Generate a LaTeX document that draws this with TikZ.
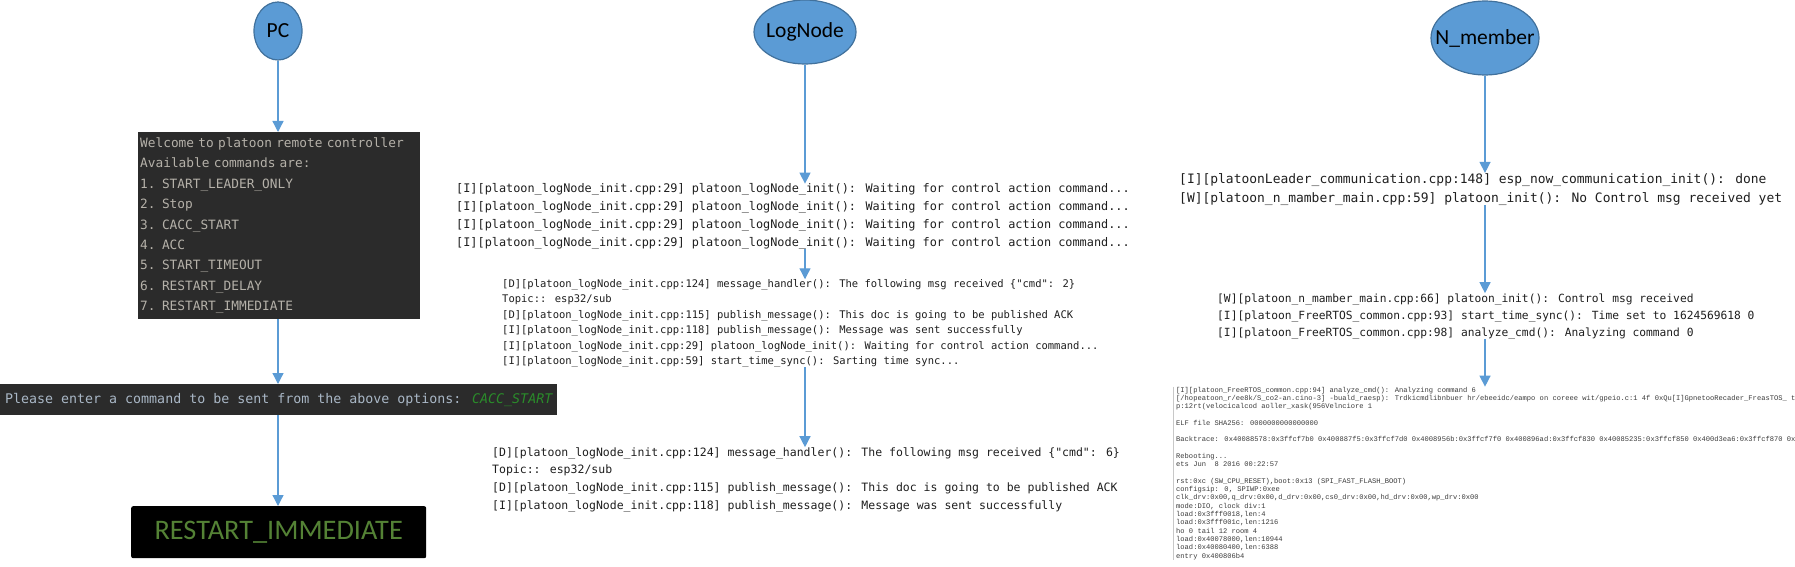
\documentclass[tikz,border=0pt]{standalone}
\usepackage{fontspec}
\setmainfont{Carlito}
\newfontfamily\consolefont{DejaVu Sans Mono}
\newfontfamily\serialfont{Liberation Mono}
\usetikzlibrary{arrows.meta}
\usetikzlibrary{shapes.geometric}

\definecolor{nodeblue}{HTML}{5B9BD5}
\definecolor{nodeline}{HTML}{41719C}
\definecolor{termgray}{HTML}{2B2B2B}
\definecolor{menugray}{HTML}{B5B1A9}
\definecolor{promptgray}{HTML}{A9B7C6}
\definecolor{accgreen}{HTML}{2A8C2A}
\definecolor{cmdgreen}{HTML}{548235}
\definecolor{logblack}{HTML}{1E1E1E}
\definecolor{serialgray}{HTML}{3A3A3A}
\definecolor{framegray}{HTML}{C8C8C8}

\begin{document}
\begin{tikzpicture}[x=1pt,y=-1pt]
        \tikzset{
          ->,
          >={Triangle[width=11pt,length=11pt]},
          every edge/.append style={draw=nodeblue, line width=1.3pt},
          actor/.style={
            ellipse,
            draw=nodeline,
            fill=nodeblue,
            line width=1.2pt,
            inner sep=0pt,
            font=\fontsize{21.5}{26}\selectfont,
          },
          terminal/.style={
            anchor=north west,
            fill=termgray,
            inner sep=0pt,
          },
          logtext/.style={
            anchor=base west,
            inner sep=0pt,
            align=left,
            text=logblack,
          },
        }
        \useasboundingbox (0,0) rectangle (1795,567);
        \clip (0,0) rectangle (1795,567);

        % the three devices
        \node[actor, minimum width=48, minimum height=58] (pc) at (278,31) {\makebox[0pt]{PC}};
        \node[actor, minimum width=102, minimum height=64] (lognode) at (805,32) {\makebox[0pt]{LogNode}};
        \node[actor, minimum width=108, minimum height=74] (nmember) at (1485,38) {\makebox[0pt]{N\_member}};

        % PC column
        \node[terminal, minimum width=282, minimum height=187, text width=278, inner xsep=2pt,
              align=left, text=menugray, font=\consolefont\fontsize{12.8}{20.4}\selectfont]
          (menu) at (138,132) {Welcome to platoon remote controller\\
            Available commands are:\\
            1. START\_LEADER\_ONLY\\
            2. Stop\\
            3. CACC\_START\\
            4. ACC\\
            5. START\_TIMEOUT\\
            6. RESTART\_DELAY\\
            7. RESTART\_IMMEDIATE};
        \node[terminal, minimum width=557, minimum height=31, text=promptgray,
              font=\consolefont\fontsize{13.3}{16}\selectfont]
          (prompt) at (0,384) {Please enter a command to be sent from the above options: {\color{accgreen}\itshape CACC\_START}};
        \node[terminal, fill=black, rounded corners=2pt, minimum width=295, minimum height=52,
              text=cmdgreen, font=\fontsize{28.3}{34}\selectfont]
          (cmd) at (131,506) {RESTART\_IMMEDIATE};

        % LogNode column (anchored at the baseline of the last line)
        \node[logtext, font=\consolefont\fontsize{11.86}{17.7}\selectfont] (log1) at (456,246)
          {[I][platoon\_logNode\_init.cpp:29] platoon\_logNode\_init(): Waiting for control action command...\\
           {}[I][platoon\_logNode\_init.cpp:29] platoon\_logNode\_init(): Waiting for control action command...\\
           {}[I][platoon\_logNode\_init.cpp:29] platoon\_logNode\_init(): Waiting for control action command...\\
           {}[I][platoon\_logNode\_init.cpp:29] platoon\_logNode\_init(): Waiting for control action command...};
        \node[logtext, font=\consolefont\fontsize{10.5}{15.4}\selectfont] (log2) at (502,364.5)
          {[D][platoon\_logNode\_init.cpp:124] message\_handler(): The following msg received \{"cmd": 2\}\\
           Topic:: esp32/sub\\
           {}[D][platoon\_logNode\_init.cpp:115] publish\_message(): This doc is going to be published ACK\\
           {}[I][platoon\_logNode\_init.cpp:118] publish\_message(): Message was sent successfully\\
           {}[I][platoon\_logNode\_init.cpp:29] platoon\_logNode\_init(): Waiting for control action command...\\
           {}[I][platoon\_logNode\_init.cpp:59] start\_time\_sync(): Sarting time sync...};
        \node[logtext, font=\consolefont\fontsize{11.5}{17.6}\selectfont] (log3) at (492,509)
          {[D][platoon\_logNode\_init.cpp:124] message\_handler(): The following msg received \{"cmd": 6\}\\
           Topic:: esp32/sub\\
           {}[D][platoon\_logNode\_init.cpp:115] publish\_message(): This doc is going to be published ACK\\
           {}[I][platoon\_logNode\_init.cpp:118] publish\_message(): Message was sent successfully};

        % N_member column
        \node[logtext, font=\consolefont\fontsize{12.95}{19}\selectfont] (nm1) at (1179,202)
          {[I][platoonLeader\_communication.cpp:148] esp\_now\_communication\_init(): done\\
           {}[W][platoon\_n\_mamber\_main.cpp:59] platoon\_init(): No Control msg received yet};
        \node[logtext, font=\consolefont\fontsize{11.25}{17}\selectfont] (nm2) at (1217,336)
          {[W][platoon\_n\_mamber\_main.cpp:66] platoon\_init(): Control msg received\\
           {}[I][platoon\_FreeRTOS\_common.cpp:93] start\_time\_sync(): Time set to 1624569618 0\\
           {}[I][platoon\_FreeRTOS\_common.cpp:98] analyze\_cmd(): Analyzing command 0};
        \node[logtext, text=serialgray, font=\serialfont\fontsize{7.1}{8.3}\selectfont] (nm3) at (1176,558)
          {[I][platoon\_FreeRTOS\_common.cpp:94] analyze\_cmd(): Analyzing command 6\\
           {}[/hopeatoon\_r/ee8k/S\_co2-an.cino-3] -buald\_raesp): Trdkicmdlibnbuer hr/ebeeidc/eampo on coreee wit/gpeio.c:1 4f 0xQu[I]GpnetooRecader\_FreasTOS\_ tail\\
           p:12rt(velocicalcod aoller\_xask(956Velnciore 1\\[8.3pt]
           ELF file SHA256: 0000000000000000\\[8.3pt]
           Backtrace: 0x40088578:0x3ffcf7b0 0x400887f5:0x3ffcf7d0 0x4008956b:0x3ffcf7f0 0x400896ad:0x3ffcf830 0x40085235:0x3ffcf850 0x400d3ea6:0x3ffcf870 0x400d\\[8.3pt]
           Rebooting...\\
           ets Jun\ \ 8 2016 00:22:57\\[8.3pt]
           rst:0xc (SW\_CPU\_RESET),boot:0x13 (SPI\_FAST\_FLASH\_BOOT)\\
           configsip: 0, SPIWP:0xee\\
           clk\_drv:0x00,q\_drv:0x00,d\_drv:0x00,cs0\_drv:0x00,hd\_drv:0x00,wp\_drv:0x00\\
           mode:DIO, clock div:1\\
           load:0x3fff0018,len:4\\
           load:0x3fff001c,len:1216\\
           ho 0 tail 12 room 4\\
           load:0x40078000,len:10944\\
           load:0x40080400,len:6388\\
           entry 0x400806b4};
        \draw[-, framegray, line width=0.6pt]
          ([xshift=-3pt]nm3.north west) -- ([xshift=-3pt]nm3.south west);

        \path
          (pc) edge (pc |- menu.north)
          (pc |- menu.south) edge (pc |- prompt.north)
          (pc |- prompt.south) edge (pc |- cmd.north)
          (lognode) edge (lognode |- log1.north)
          (lognode |- log1.south) edge (lognode |- log2.north)
          (lognode |- log2.south) edge (lognode |- log3.north)
          (nmember) edge (nmember |- nm1.north)
          (nmember |- nm1.south) edge (nmember |- nm2.north)
          (nmember |- nm2.south) edge (nmember |- nm3.north);
      \end{tikzpicture}
\end{document}
